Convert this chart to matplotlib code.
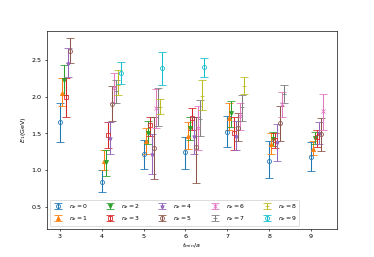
import matplotlib
matplotlib.use('Agg')
import matplotlib.pyplot as plt
import numpy as np

t_min = [3, 4, 5, 6, 7, 8, 9]

# central values E_1 per n_z, one entry per t_min (nan = no point)
nan = np.nan
E = {
    0: [1.65, 0.84, 1.22, 1.24, 1.52, 1.13, 1.18],
    1: [2.05, 1.13, 1.39, 1.47, 1.71, 1.36, 1.29],
    2: [2.23, 1.11, 1.51, 1.58, 1.78, 1.43, 1.44],
    3: [2.00, 1.48, 1.61, 1.71, 1.51, 1.41, 1.45],
    4: [2.46, 1.44, 1.22, 1.46, 1.47, 1.38, 1.50],
    5: [2.63, 1.90, 1.30, 1.31, 1.58, 1.64, 1.49],
    6: [nan, 2.12, 1.85, 1.57, 1.74, 1.90, 1.80],
    7: [nan, 2.08, 1.86, 1.70, 1.86, 2.04, nan],
    8: [nan, 2.16, 1.86, 2.01, 2.14, nan, nan],
    9: [nan, 2.33, 2.39, 2.40, nan, nan, nan],
}
# lower / upper ends of the error bars
E_lo = {
    0: [1.38, 0.70, 1.02, 1.02, 1.31, 0.89, 0.99],
    1: [1.88, 1.00, 1.22, 1.29, 1.54, 1.22, 1.20],
    2: [2.02, 0.92, 1.35, 1.41, 1.59, 1.33, 1.35],
    3: [1.73, 1.30, 1.46, 1.55, 1.28, 1.30, 1.32],
    4: [2.27, 1.22, 0.94, 1.22, 1.28, 1.12, 1.36],
    5: [2.46, 1.67, 0.88, 0.82, 1.39, 1.39, 1.26],
    6: [nan, 1.91, 1.58, 1.28, 1.55, 1.73, 1.55],
    7: [nan, 1.91, 1.60, 1.46, 1.67, 1.92, nan],
    8: [nan, 2.02, 1.77, 1.82, 2.04, nan, nan],
    9: [nan, 2.17, 2.16, 2.27, nan, nan, nan],
}
E_hi = {
    0: [1.92, 1.00, 1.41, 1.45, 1.74, 1.39, 1.38],
    1: [2.25, 1.28, 1.57, 1.66, 1.91, 1.51, 1.39],
    2: [2.43, 1.28, 1.67, 1.73, 1.94, 1.52, 1.52],
    3: [2.25, 1.65, 1.73, 1.84, 1.73, 1.51, 1.55],
    4: [2.67, 1.65, 1.49, 1.73, 1.67, 1.63, 1.66],
    5: [2.80, 2.14, 1.73, 1.73, 1.78, 1.88, 1.71],
    6: [nan, 2.32, 2.10, 1.87, 1.91, 2.06, 2.04],
    7: [nan, 2.23, 2.12, 1.96, 2.03, 2.16, nan],
    8: [nan, 2.36, 1.97, 2.23, 2.27, nan, nan],
    9: [nan, 2.48, 2.61, 2.53, nan, nan, nan],
}

markers = ['o', '^', 'v', 's', '*', 'o', 'x', '_', '_', 'o']
filled = [False, True, True, False, True, False, True, True, True, False]

plt.rcParams['font.size'] = 7.8
plt.rcParams['xtick.major.size'] = 3
plt.rcParams['ytick.major.size'] = 3

fig = plt.figure(figsize=(6.4, 4.4), dpi=58.44)
ax = fig.add_subplot(111)

for nz in range(10):
    y = np.array(E[nz])
    lo = y - np.array(E_lo[nz])
    hi = np.array(E_hi[nz]) - y
    x = np.array(t_min) + 0.05*nz
    ok = ~np.isnan(y)
    col = f'C{nz}'
    ax.errorbar(x[ok], y[ok], [lo[ok], hi[ok]], fmt=markers[nz], color=col,
                mfc=col if filled[nz] else 'none', ms=5, capsize=5,
                elinewidth=1.3, label=f'$n_z={nz}$')

ax.set_ylim(0.2, 2.9)
ax.set_yticks([0.5, 1.0, 1.5, 2.0, 2.5])
ax.set_xticks(t_min)
ax.set_xlabel('$t_{min}/a$', labelpad=2)
ax.set_ylabel('$E_1$(GeV)')
ax.legend(ncol=5, loc='lower left', fontsize=7.5, columnspacing=2.6)

fig.savefig('out.png', dpi=58.44)
